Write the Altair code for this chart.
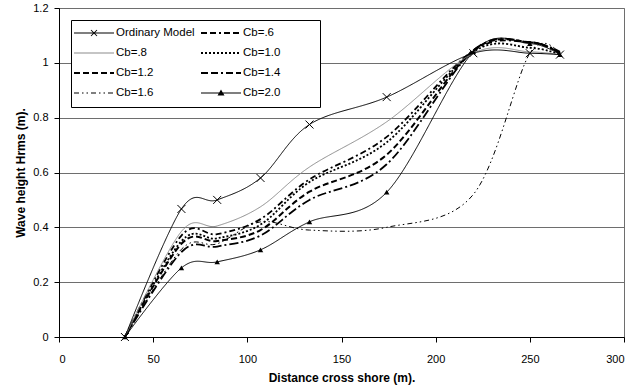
import altair as alt
import pandas as pd

# ---------------- data ----------------
x_stations = [35, 65, 84, 107, 133, 174, 220, 250, 266]
series_names = ["Ordinary Model", "Cb=.6", "Cb=.8", "Cb=1.0",
                "Cb=1.2", "Cb=1.4", "Cb=1.6", "Cb=2.0"]
ordinary = [0, 0.467, 0.500, 0.580, 0.775, 0.875, 1.035, 1.035, 1.030]
cb06 = [0, 0.370, 0.375, 0.430, 0.575, 0.730, 1.045, 1.075, 1.040]
cb08 = [0, 0.385, 0.405, 0.475, 0.620, 0.785, 1.035, 1.040, 1.030]
cb10 = [0, 0.350, 0.360, 0.410, 0.565, 0.710, 1.040, 1.055, 1.030]
cb12 = [0, 0.340, 0.350, 0.390, 0.530, 0.665, 1.045, 1.075, 1.035]
cb14 = [0, 0.310, 0.330, 0.370, 0.500, 0.630, 1.045, 1.075, 1.035]
cb16 = [0, 0.320, 0.340, 0.420, 0.390, 0.400, 0.520, 1.035, 1.030]
cb20 = [0, 0.252, 0.274, 0.318, 0.420, 0.528, 1.040, 1.070, 1.030]
series_values = [ordinary, cb06, cb08, cb10, cb12, cb14, cb16, cb20]

x_ticks = [0, 50, 100, 150, 200, 250, 300]
y_ticks = [0, 0.2, 0.4, 0.6, 0.8, 1.0, 1.2]

rows = []
for name, vals in zip(series_names, series_values):
    for xv, yv in zip(x_stations, vals):
        rows.append({"series": name, "x": xv, "y": yv})
df = pd.DataFrame(rows)

# legend entries fill column by column: reorder so they read row by row
n_rows = 4
legend_order = [series_names[r * 2 + c] for c in range(2) for r in range(n_rows)]

# ---------------- styles ----------------
styles = {
    "Ordinary Model": dict(color="black", dash=[1, 0], width=1.0),
    "Cb=.6": dict(color="black", dash=[6, 3, 2, 3], width=1.8),
    "Cb=.8": dict(color="#8c8c8c", dash=[1, 0], width=1.0),
    "Cb=1.0": dict(color="black", dash=[2, 2], width=1.8),
    "Cb=1.2": dict(color="black", dash=[6, 3], width=2.0),
    "Cb=1.4": dict(color="black", dash=[9, 3, 2, 3], width=1.8),
    "Cb=1.6": dict(color="black", dash=[5, 3, 1.5, 3, 1.5, 3], width=1.0),
    "Cb=2.0": dict(color="black", dash=[1, 0], width=1.0),
}

# ---------------- legend symbol paths (unit = 20 px) ----------------
R = 20.0


def poly(pts):
    area = 0
    for i in range(len(pts)):
        x1, y1 = pts[i]
        x2, y2 = pts[(i + 1) % len(pts)]
        area += x1 * y2 - x2 * y1
    if area < 0:
        pts = pts[::-1]
    return "M" + "L".join(f"{px / R:.4f},{py / R:.4f}" for px, py in pts) + "Z"


def rect(x1, x2, h):
    return poly([(x1, -h / 2), (x2, -h / 2), (x2, h / 2), (x1, h / 2)])


def dashed(pattern, h):
    out = []
    xpos = -20.0
    i = 0
    while xpos < 20:
        seg = pattern[i % len(pattern)]
        if i % 2 == 0:
            out.append(rect(xpos, min(xpos + seg, 20), h))
        xpos += seg
        i += 1
    return "".join(out)


def diag(x1, y1, x2, y2, w):
    dx, dy = x2 - x1, y2 - y1
    ln = (dx * dx + dy * dy) ** 0.5
    nx, ny = -dy / ln * w / 2, dx / ln * w / 2
    return poly([(x1 + nx, y1 + ny), (x2 + nx, y2 + ny), (x2 - nx, y2 - ny), (x1 - nx, y1 - ny)])


sym_paths = {
    "Ordinary Model": rect(-20, 20, 1) + diag(-3, -3, 3, 3, 1) + diag(-3, 3, 3, -3, 1),
    "Cb=.6": dashed([6, 3, 6, 3, 2, 3], 2),
    "Cb=.8": rect(-20, 20, 1),
    "Cb=1.0": dashed([2, 2], 2),
    "Cb=1.2": dashed([6, 3], 2.2),
    "Cb=1.4": dashed([7, 3, 7, 3, 2, 3], 2),
    "Cb=1.6": dashed([5, 3, 1.5, 3, 1.5, 3], 1),
    "Cb=2.0": rect(-20, 20, 1) + poly([(0, -3.5), (3.5, 2.5), (-3.5, 2.5)]),
}
sym_fill = {n: ("#8c8c8c" if n == "Cb=.8" else "black") for n in series_names}

FONT = "Liberation Sans"

x_enc = alt.X("x:Q", scale=alt.Scale(domain=[0, 300], nice=False, zero=False),
              axis=alt.Axis(values=x_ticks, grid=False, tickSize=5, labelFontSize=11,
                            labelPadding=11, title="Distance cross shore (m).",
                            titleFontSize=12, titleFontWeight="bold", titlePadding=8,
                            domainColor="black", tickColor="black", labelColor="black",
                            titleColor="black", labelFont=FONT, titleFont=FONT))
y_enc = alt.Y("y:Q", scale=alt.Scale(domain=[0, 1.2], nice=False),
              axis=alt.Axis(values=y_ticks, format="~g", grid=True, gridColor="#6e6e6e",
                            gridWidth=1, tickSize=5, labelFontSize=11, labelPadding=6,
                            title="Wave height Hrms (m).", titleFontSize=12,
                            titleFontWeight="bold", titlePadding=5, domainColor="black",
                            tickColor="black", labelColor="black", titleColor="black",
                            labelFont=FONT, titleFont=FONT))

base = alt.Chart(df)

layers = []
draw_order = ["Cb=1.6", "Cb=1.4", "Cb=1.2", "Cb=1.0", "Cb=.6", "Cb=.8", "Cb=2.0", "Ordinary Model"]
for name in draw_order:
    st = styles[name]
    layers.append(
        base.transform_filter(alt.datum.series == name)
        .mark_line(interpolate="cardinal", stroke=st["color"], strokeDash=st["dash"],
                   strokeWidth=st["width"])
        .encode(x=x_enc, y=y_enc)
    )

cross = (base.transform_filter(alt.datum.series == "Ordinary Model")
         .mark_point(shape="M-1,-1L1,1M-1,1L1,-1", size=64, filled=False,
                     stroke="black", strokeWidth=1, opacity=1)
         .encode(x="x:Q", y="y:Q"))
tri = (base.transform_filter(alt.datum.series == "Cb=2.0")
       .mark_point(shape="triangle-up", size=30, filled=True, fill="black",
                   strokeWidth=0, opacity=1)
       .encode(x="x:Q", y="y:Q"))

# white framed box behind the legend entries
legend_box = (alt.Chart(pd.DataFrame({"k": [0]}))
              .mark_rect(fill="white", stroke="black", strokeWidth=1)
              .encode(x=alt.value(12.5), x2=alt.value(261.5),
                      y=alt.value(12.5), y2=alt.value(99.5)))

legend = alt.Legend(
    title=None, orient="none", legendX=11, legendY=12, columns=2,
    symbolSize=1600, symbolOpacity=1, symbolStrokeWidth=0,
    labelFont=FONT, labelFontSize=11.5, labelColor="black", labelOffset=2,
    padding=4, rowPadding=2,
    columnPadding=6, labelLimit=300, clipHeight=18, gridAlign="all",
)

leg_layer = (base.mark_point(filled=True, opacity=0, size=1600)
             .encode(
                 x="x:Q", y="y:Q",
                 fill=alt.Fill("series:N", sort=legend_order,
                               scale=alt.Scale(domain=legend_order,
                                               range=[sym_fill[n] for n in legend_order]),
                               legend=legend),
                 shape=alt.Shape("series:N", sort=legend_order,
                                 scale=alt.Scale(domain=legend_order,
                                                 range=[sym_paths[n] for n in legend_order]),
                                 legend=legend),
             ))

chart = alt.layer(*layers, cross, tri, legend_box, leg_layer).properties(
    width=565, height=329,
    autosize=alt.AutoSizeParams(type="none"),
    padding={"left": 59, "top": 8, "right": 16, "bottom": 55},
    background="white",
).configure_view(stroke="#6e6e6e", strokeWidth=1)

chart.save("out.html", embed_options={"renderer": "svg", "actions": False})
